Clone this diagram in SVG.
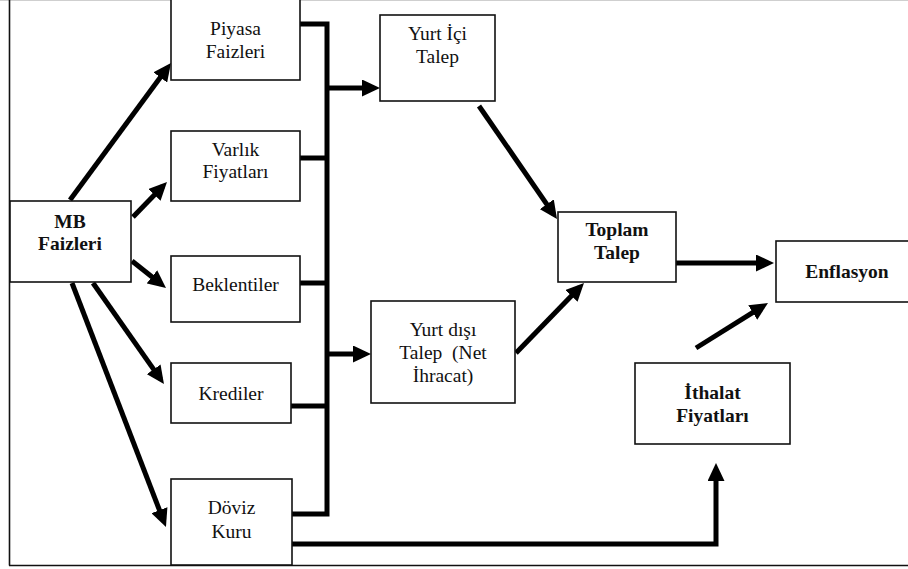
<svg xmlns="http://www.w3.org/2000/svg" width="908" height="569" viewBox="0 0 908 569">
<style>
.box{fill:#fff;stroke:#111;stroke-width:1.6}
.t{font-family:'Liberation Serif','Times New Roman',Tinos,'DejaVu Serif',serif;font-size:19.5px;fill:#111;text-anchor:middle}
.b{font-weight:bold}
.c{fill:none;stroke:#000;stroke-width:5}
.ca{fill:none;stroke:#000;stroke-width:5;marker-end:url(#ah)}
</style>
<defs>
<marker id="ah" markerUnits="userSpaceOnUse" markerWidth="18" markerHeight="17" refX="12" refY="8.5" orient="auto" viewBox="0 0 18 17">
<path d="M0,0 L18,8.5 L0,17 z" fill="#000"/>
</marker>
</defs>
<rect width="908" height="569" fill="#fff"/>
<g id="frame">
<line x1="0" y1="0.5" x2="908" y2="0.5" stroke="#cfcfcf" stroke-width="1"/>
<line x1="9.5" y1="0" x2="9.5" y2="565.5" stroke="#111" stroke-width="1.6"/>
<line x1="9" y1="565.5" x2="908" y2="565.5" stroke="#111" stroke-width="1.6"/>
</g>
<g id="connectors">
<path class="c" d="M300 24 H327 V514 H292"/>
<line class="c" x1="300" y1="158" x2="327" y2="158"/>
<line class="c" x1="300" y1="283" x2="327" y2="283"/>
<line class="c" x1="291" y1="406" x2="327" y2="406"/>
<line class="ca" x1="70" y1="200" x2="167.4" y2="67.8"/>
<line class="ca" x1="133" y1="217" x2="162.8" y2="186.3"/>
<line class="ca" x1="132" y1="261" x2="161.3" y2="284.3"/>
<line class="ca" x1="93" y1="283" x2="160.5" y2="379.1"/>
<line class="ca" x1="72" y1="283" x2="163.8" y2="521.4"/>
<line class="ca" x1="327" y1="88" x2="374" y2="88"/>
<line class="ca" x1="327" y1="354" x2="365" y2="354"/>
<line class="ca" x1="479" y1="106" x2="553.6" y2="214.1"/>
<line class="ca" x1="516" y1="353" x2="579.8" y2="287.3"/>
<line class="ca" x1="676" y1="263" x2="768" y2="263"/>
<line class="ca" x1="696" y1="348" x2="762.9" y2="306.2"/>
<path class="ca" d="M292 544 H716 V469"/>
</g>
<g id="mb">
<rect class="box" x="10" y="201" width="121" height="81"/>
<text class="t b" x="70" y="228" font-family="Liberation Serif, serif">MB</text>
<text class="t b" x="70" y="250" font-family="Liberation Serif, serif">Faizleri</text>
</g>
<g id="piyasa">
<rect class="box" x="171" y="-5" width="129" height="85"/>
<text class="t" x="235.5" y="35">Piyasa</text>
<text class="t" x="235.5" y="58">Faizleri</text>
</g>
<g id="varlik">
<rect class="box" x="171" y="131" width="129" height="70"/>
<text class="t" x="235.5" y="156">Varlık</text>
<text class="t" x="235.5" y="178">Fiyatları</text>
</g>
<g id="beklentiler">
<rect class="box" x="171" y="256" width="129" height="66"/>
<text class="t" x="235.5" y="291">Beklentiler</text>
</g>
<g id="krediler">
<rect class="box" x="171" y="363" width="120" height="60"/>
<text class="t" x="231" y="400">Krediler</text>
</g>
<g id="doviz">
<rect class="box" x="171" y="479" width="121" height="86"/>
<text class="t" x="231.5" y="514">Döviz</text>
<text class="t" x="231.5" y="538">Kuru</text>
</g>
<g id="yurtici">
<rect class="box" x="380" y="15" width="115" height="86"/>
<text class="t" x="437.5" y="40">Yurt İçi</text>
<text class="t" x="437.5" y="63">Talep</text>
</g>
<g id="yurtdisi">
<rect class="box" x="371" y="301" width="144" height="102"/>
<text class="t" x="443" y="336">Yurt dışı</text>
<text class="t" x="443" y="359" xml:space="preserve">Talep  (Net</text>
<text class="t" x="443" y="382">İhracat)</text>
</g>
<g id="toplam">
<rect class="box" x="558" y="212" width="118" height="70"/>
<text class="t b" x="617" y="236">Toplam</text>
<text class="t b" x="617" y="259">Talep</text>
</g>
<g id="enflasyon">
<rect class="box" x="776" y="241" width="150" height="61"/>
<text class="t b" x="847" y="278">Enflasyon</text>
</g>
<g id="ithalat">
<rect class="box" x="635" y="363" width="155" height="81"/>
<text class="t b" x="712.5" y="399">İthalat</text>
<text class="t b" x="712.5" y="422">Fiyatları</text>
</g>
</svg>
